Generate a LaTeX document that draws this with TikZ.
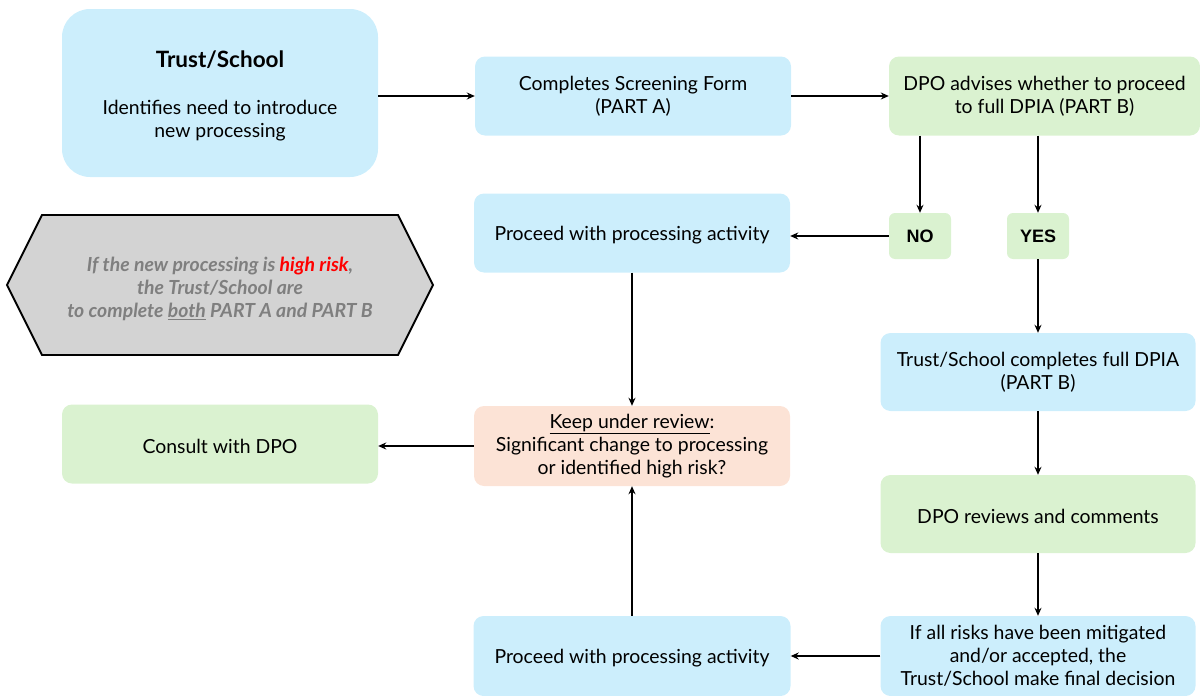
\documentclass[tikz,border=0pt]{standalone}
\usepackage{fontspec}
\setmainfont{Lato}
\newfontfamily\arialb{Liberation Sans}
\usetikzlibrary{arrows.meta}
\definecolor{bluebox}{HTML}{CCEEFC}
\definecolor{greenbox}{HTML}{DAF2D0}
\definecolor{peachbox}{HTML}{FCE3D6}
\definecolor{greybox}{HTML}{D3D3D3}
\definecolor{greytext}{HTML}{7F7F7F}
\tikzset{
  box/.style={rounded corners=10pt, minimum width=316pt, minimum height=79pt, align=center, inner sep=2pt,
    font=\fontsize{19.4}{23}\selectfont, execute at begin node={\rule{0pt}{19pt}}},
  bluestep/.style={box, fill=bluebox},
  greenstep/.style={box, fill=greenbox},
  peachstep/.style={box, fill=peachbox},
  yesno/.style={rounded corners=6pt, fill=greenbox, minimum width=62pt, minimum height=46pt,
    font=\arialb\bfseries\fontsize{18}{21}\selectfont},
  arr/.style={draw, line width=2pt, -{Stealth[length=8pt,width=7pt]}},
}
\begin{document}
\begin{tikzpicture}[x=1pt,y=-1pt]
\useasboundingbox (0,0) rectangle (1200,696);
% nodes
\node[bluestep, rounded corners=28pt, minimum height=168pt,
  label={[align=center, font=\fontsize{19.4}{23}\selectfont, yshift=-3pt]center:{{\bfseries\fontsize{22.5}{24}\selectfont Trust/School}\\[24pt]Identifies need to introduce\\new processing}}] (trust) at (220,93) {};
\node[bluestep] (screen) at (633,96) {Completes Screening Form\\(PART A)};
\node[greenstep, minimum width=311pt] (advise) at (1044.5,96) {DPO advises whether to proceed\\to full DPIA (PART B)};
\node[yesno] (no) at (920,236) {NO};
\node[yesno] (yes) at (1038,236) {YES};
\node[bluestep] (proc1) at (632,233) {Proceed with processing activity};
\node[bluestep, minimum width=315pt, minimum height=78pt] (full) at (1038,372) {Trust/School completes full DPIA\\(PART B)};
\node[greenstep] (consult) at (220,444) {Consult with DPO};
\node[peachstep, minimum height=80pt] (review) at (632,446) {\underline{Keep under review}:\\Significant change to processing\\or identified high risk?};
\node[greenstep, minimum width=315pt, minimum height=78pt] (dporev) at (1038,514) {DPO reviews and comments};
\node[bluestep, minimum width=315pt, minimum height=80pt] (final) at (1038,656) {If all risks have been mitigated\\and/or accepted, the\\Trust/School make final decision};
\node[bluestep, minimum width=317pt, minimum height=80pt] (proc2) at (632,656) {Proceed with processing activity};
% hexagon
\draw[fill=greybox, line width=1.8pt] (42,215) -- (398,215) -- (433,285) -- (398,355) -- (42,355) -- (7,285) -- cycle;
\node[align=center, text=greytext, font=\itshape\bfseries\fontsize{19.4}{23}\selectfont] (hex) at (220,289)
  {If the new processing is \textcolor{red}{high risk},\\the Trust/School are\\to complete \underline{both} PART A and PART B};
% connectors
\draw[arr] (trust.east |- screen.west) -- (screen.west);
\draw[arr] (screen.east) -- (advise.west);
\draw[arr] (advise.south -| no.north) -- (no.north);
\draw[arr] (advise.south -| yes.north) -- (yes.north);
\draw[arr] (no.west) -- (proc1.east |- no.west);
\draw[arr] (yes.south) -- (full.north);
\draw[arr] (proc1.south) -- (review.north);
\draw[arr] (full.south) -- (dporev.north);
\draw[arr] (dporev.south) -- (final.north);
\draw[arr] (final.west) -- (proc2.east);
\draw[arr] (proc2.north) -- (review.south);
\draw[arr] (review.west) -- (consult.east |- review.west);
\end{tikzpicture}
\end{document}
